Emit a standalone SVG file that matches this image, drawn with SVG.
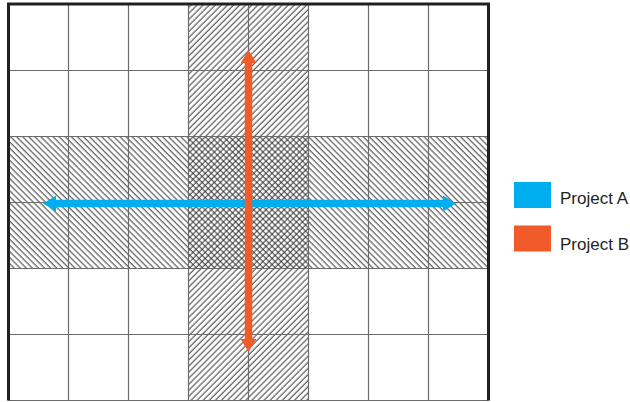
<svg xmlns="http://www.w3.org/2000/svg" width="630" height="402" viewBox="0 0 630 402">
  <defs>
    <style>
      .grid { stroke: #6b6b6b; stroke-width: 1.2; fill: none; }
      .border { stroke: #231f20; stroke-width: 3; fill: none; }
      .hatch { stroke: #222222; stroke-width: 0.9; }
      .legend { font-family: "Liberation Sans", Arial, sans-serif; font-size: 17px; fill: #231f20; }
    </style>
    <pattern id="hatchF" patternUnits="userSpaceOnUse" width="4.3" height="4.3" patternTransform="rotate(45)">
      <line class="hatch" x1="1" y1="-1" x2="1" y2="5.3"/>
    </pattern>
    <pattern id="hatchB" patternUnits="userSpaceOnUse" width="4.3" height="4.3" patternTransform="rotate(-45)">
      <line class="hatch" x1="1" y1="-1" x2="1" y2="5.3"/>
    </pattern>
    <marker id="arrowBlue" markerUnits="userSpaceOnUse" viewBox="0 0 13 16" markerWidth="13" markerHeight="16" refX="0" refY="8" orient="auto-start-reverse">
      <path d="M0,0 L13,8 L0,16 z" fill="#00aeef"/>
    </marker>
    <marker id="arrowOrange" markerUnits="userSpaceOnUse" viewBox="0 0 13 16" markerWidth="13" markerHeight="16" refX="0" refY="8" orient="auto-start-reverse">
      <path d="M0,0 L13,8 L0,16 z" fill="#f15a29"/>
    </marker>
  </defs>
  <rect x="0" y="0" width="630" height="402" fill="#ffffff"/>

  <g id="bands">
    <rect x="188.5" y="4" width="120" height="396.5" fill="url(#hatchF)"/>
    <rect x="8.5" y="136.5" width="480" height="132" fill="url(#hatchB)"/>
  </g>

  <g id="grid">
    <path class="grid" d="M68.5,4 V400.5 M128.5,4 V400.5 M188.5,4 V400.5 M248.5,4 V400.5 M308.5,4 V400.5 M368.5,4 V400.5 M428.5,4 V400.5"/>
    <path class="grid" d="M8.5,70.5 H488.5 M8.5,136.5 H488.5 M8.5,202.5 H488.5 M8.5,268.5 H488.5 M8.5,334.5 H488.5 M8.5,400.5 H488.5"/>
    <path class="border" d="M8.5,400.5 V4 H488.5 V400.5"/>
  </g>

  <g id="connectors">
    <line id="projectA-arrow" x1="56" y1="203.5" x2="443" y2="203.5" stroke="#00aeef" stroke-width="7.5" marker-start="url(#arrowBlue)" marker-end="url(#arrowBlue)"/>
    <line id="projectB-arrow" x1="248.5" y1="63" x2="248.5" y2="339" stroke="#f15a29" stroke-width="7.5" marker-start="url(#arrowOrange)" marker-end="url(#arrowOrange)"/>
  </g>

  <g id="legend-a">
    <rect x="514" y="182" width="37" height="26" fill="#00aeef"/>
    <text class="legend" x="560" y="204">Project A</text>
  </g>
  <g id="legend-b">
    <rect x="514" y="225.5" width="37" height="26" fill="#f15a29"/>
    <text class="legend" x="560" y="250">Project B</text>
  </g>
</svg>
